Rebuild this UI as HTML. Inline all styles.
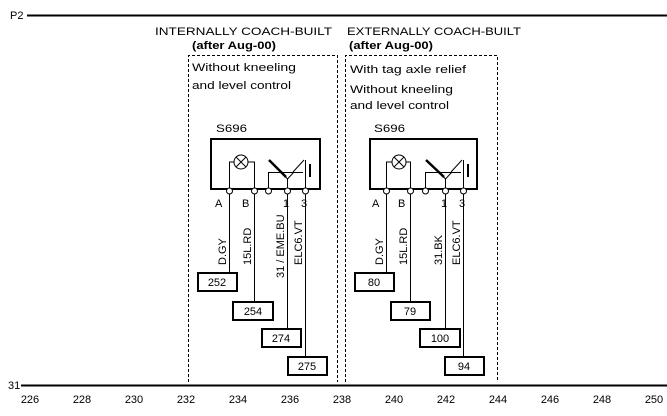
<!DOCTYPE html>
<html><head><style>body{margin:0;background:#fff}svg{display:block}text{font-family:"Liberation Sans",sans-serif;font-size:11px;fill:#000}</style></head><body>
<svg width="667" height="416" viewBox="0 0 667 416" xmlns="http://www.w3.org/2000/svg">
<text x="10" y="19">P2</text>
<line x1="27" y1="15.5" x2="667" y2="15.5" stroke="#000" stroke-width="2"/>
<text x="8" y="389">31</text>
<line x1="21" y1="385.5" x2="667" y2="385.5" stroke="#000" stroke-width="2"/>
<g text-anchor="middle">
<text x="30" y="403">226</text><text x="82" y="403">228</text><text x="134" y="403">230</text><text x="186" y="403">232</text><text x="238" y="403">234</text><text x="290" y="403">236</text><text x="342" y="403">238</text><text x="394" y="403">240</text><text x="446" y="403">242</text><text x="498" y="403">244</text><text x="550" y="403">246</text><text x="602" y="403">248</text><text x="654" y="403">250</text>
</g>
<g fill="none" stroke="#000" stroke-dasharray="3,2" stroke-width="1">
<path d="M188.5 382V55.5H337.5V382"/>
<path d="M345.5 382V55.5H497.5V382"/>
</g>
<g font-size="12">
<text x="155" y="35" textLength="177" lengthAdjust="spacingAndGlyphs">INTERNALLY COACH-BUILT</text>
<text x="192" y="49" font-weight="bold" textLength="84" lengthAdjust="spacingAndGlyphs">(after Aug-00)</text>
<text x="347" y="35" textLength="174" lengthAdjust="spacingAndGlyphs">EXTERNALLY COACH-BUILT</text>
<text x="349" y="49" font-weight="bold" textLength="84" lengthAdjust="spacingAndGlyphs">(after Aug-00)</text>
<text x="192" y="71" textLength="104" lengthAdjust="spacingAndGlyphs">Without kneeling</text>
<text x="192" y="89" textLength="99" lengthAdjust="spacingAndGlyphs">and level control</text>
<text x="350" y="73" textLength="116" lengthAdjust="spacingAndGlyphs">With tag axle relief</text>
<text x="350" y="93" textLength="103" lengthAdjust="spacingAndGlyphs">Without kneeling</text>
<text x="350" y="109" textLength="99" lengthAdjust="spacingAndGlyphs">and level control</text>
</g>

<g id="c1">
<text x="216" y="132" font-size="12" textLength="31" lengthAdjust="spacingAndGlyphs">S696</text>
<rect x="211" y="139" width="109" height="50" fill="none" stroke="#000" stroke-width="2"/>
<g stroke="#000" fill="none">
<circle cx="241" cy="162" r="7"/><line x1="236" y1="157" x2="246" y2="167"/><line x1="246" y1="157" x2="236" y2="167"/>
<path d="M234 162H229.5V189M248 162H254.5V189"/>
<line x1="268.5" y1="172" x2="268.5" y2="189"/>
<line x1="269" y1="160" x2="286" y2="177" stroke-width="2.5"/>
<line x1="269" y1="172.5" x2="303" y2="172.5"/>
<path d="M281 172L287.5 179L294 172"/>
<line x1="287.5" y1="179" x2="287.5" y2="189"/>
<line x1="293" y1="172" x2="304" y2="160"/>
<line x1="305.5" y1="160" x2="305.5" y2="189"/>
<line x1="310" y1="164" x2="310" y2="177" stroke-width="2"/>
</g>
<g fill="#fff" stroke="#000"><circle cx="229.5" cy="191" r="3"/><circle cx="254.5" cy="191" r="3"/><circle cx="268.5" cy="191" r="3"/><circle cx="287.5" cy="191" r="3"/><circle cx="305.5" cy="191" r="3"/></g>
<text x="215" y="207">A</text><text x="242" y="207">B</text><text x="283" y="207">1</text><text x="301" y="207">3</text>
</g>

<g stroke="#000" fill="none">
<line x1="229.5" y1="194" x2="229.5" y2="273"/><line x1="254.5" y1="194" x2="254.5" y2="302"/><line x1="287.5" y1="194" x2="287.5" y2="329"/><line x1="305.5" y1="194" x2="305.5" y2="357"/>
</g>
<g font-size="10">
<text transform="translate(226,265) rotate(-90)">D.GY</text>
<text transform="translate(251,265) rotate(-90)">15L.RD</text>
<text transform="translate(284,278) rotate(-90)">31 / EME.BU</text>
<text transform="translate(302,265) rotate(-90)">ELC6.VT</text>
</g>
<g stroke="#000" stroke-width="2" fill="#fff">
<rect x="198" y="273" width="39" height="18"/><rect x="233" y="302" width="40" height="18"/><rect x="262" y="329" width="39" height="18"/><rect x="288" y="357" width="39" height="18"/>
</g>
<g text-anchor="middle"><text x="217" y="286">252</text><text x="253" y="315">254</text><text x="281" y="342">274</text><text x="307" y="370">275</text></g>

<g transform="translate(158,0)">
<text x="216" y="132" font-size="12" textLength="31" lengthAdjust="spacingAndGlyphs">S696</text>
<rect x="212" y="139" width="107" height="50" fill="none" stroke="#000" stroke-width="2"/>
<g stroke="#000" fill="none">
<circle cx="241" cy="162" r="7"/><line x1="236" y1="157" x2="246" y2="167"/><line x1="246" y1="157" x2="236" y2="167"/>
<path d="M234 162H228.5V189M248 162H252.5V189"/>
<line x1="267.5" y1="172" x2="267.5" y2="189"/>
<line x1="268" y1="160" x2="286" y2="177" stroke-width="2.5"/>
<line x1="268" y1="172.5" x2="303" y2="172.5"/>
<path d="M281 172L287.5 179L294 172"/>
<line x1="287.5" y1="179" x2="287.5" y2="189"/>
<line x1="293" y1="172" x2="304" y2="160"/>
<line x1="305.5" y1="160" x2="305.5" y2="189"/>
<line x1="310" y1="164" x2="310" y2="177" stroke-width="2"/>
</g>
<g fill="#fff" stroke="#000"><circle cx="228.5" cy="191" r="3"/><circle cx="252.5" cy="191" r="3"/><circle cx="267.5" cy="191" r="3"/><circle cx="287.5" cy="191" r="3"/><circle cx="305.5" cy="191" r="3"/></g>
<text x="214" y="207">A</text><text x="240" y="207">B</text><text x="283" y="207">1</text><text x="301" y="207">3</text>
<g stroke="#000" fill="none">
<line x1="228.5" y1="194" x2="228.5" y2="273"/><line x1="252.5" y1="194" x2="252.5" y2="302"/><line x1="287.5" y1="194" x2="287.5" y2="329"/><line x1="305.5" y1="194" x2="305.5" y2="357"/>
</g>
<g font-size="10">
<text transform="translate(225,265) rotate(-90)">D.GY</text>
<text transform="translate(249,265) rotate(-90)">15L.RD</text>
<text transform="translate(284,265) rotate(-90)">31.BK</text>
<text transform="translate(302,265) rotate(-90)">ELC6.VT</text>
</g>
</g>
<g stroke="#000" stroke-width="2" fill="#fff">
<rect x="355" y="273" width="39" height="18"/><rect x="391" y="302" width="39" height="18"/><rect x="420" y="329" width="40" height="18"/><rect x="445" y="357" width="39" height="18"/>
</g>
<g text-anchor="middle"><text x="374" y="286">80</text><text x="410" y="315">79</text><text x="440" y="342">100</text><text x="464" y="370">94</text></g>
</svg>
</body></html>
